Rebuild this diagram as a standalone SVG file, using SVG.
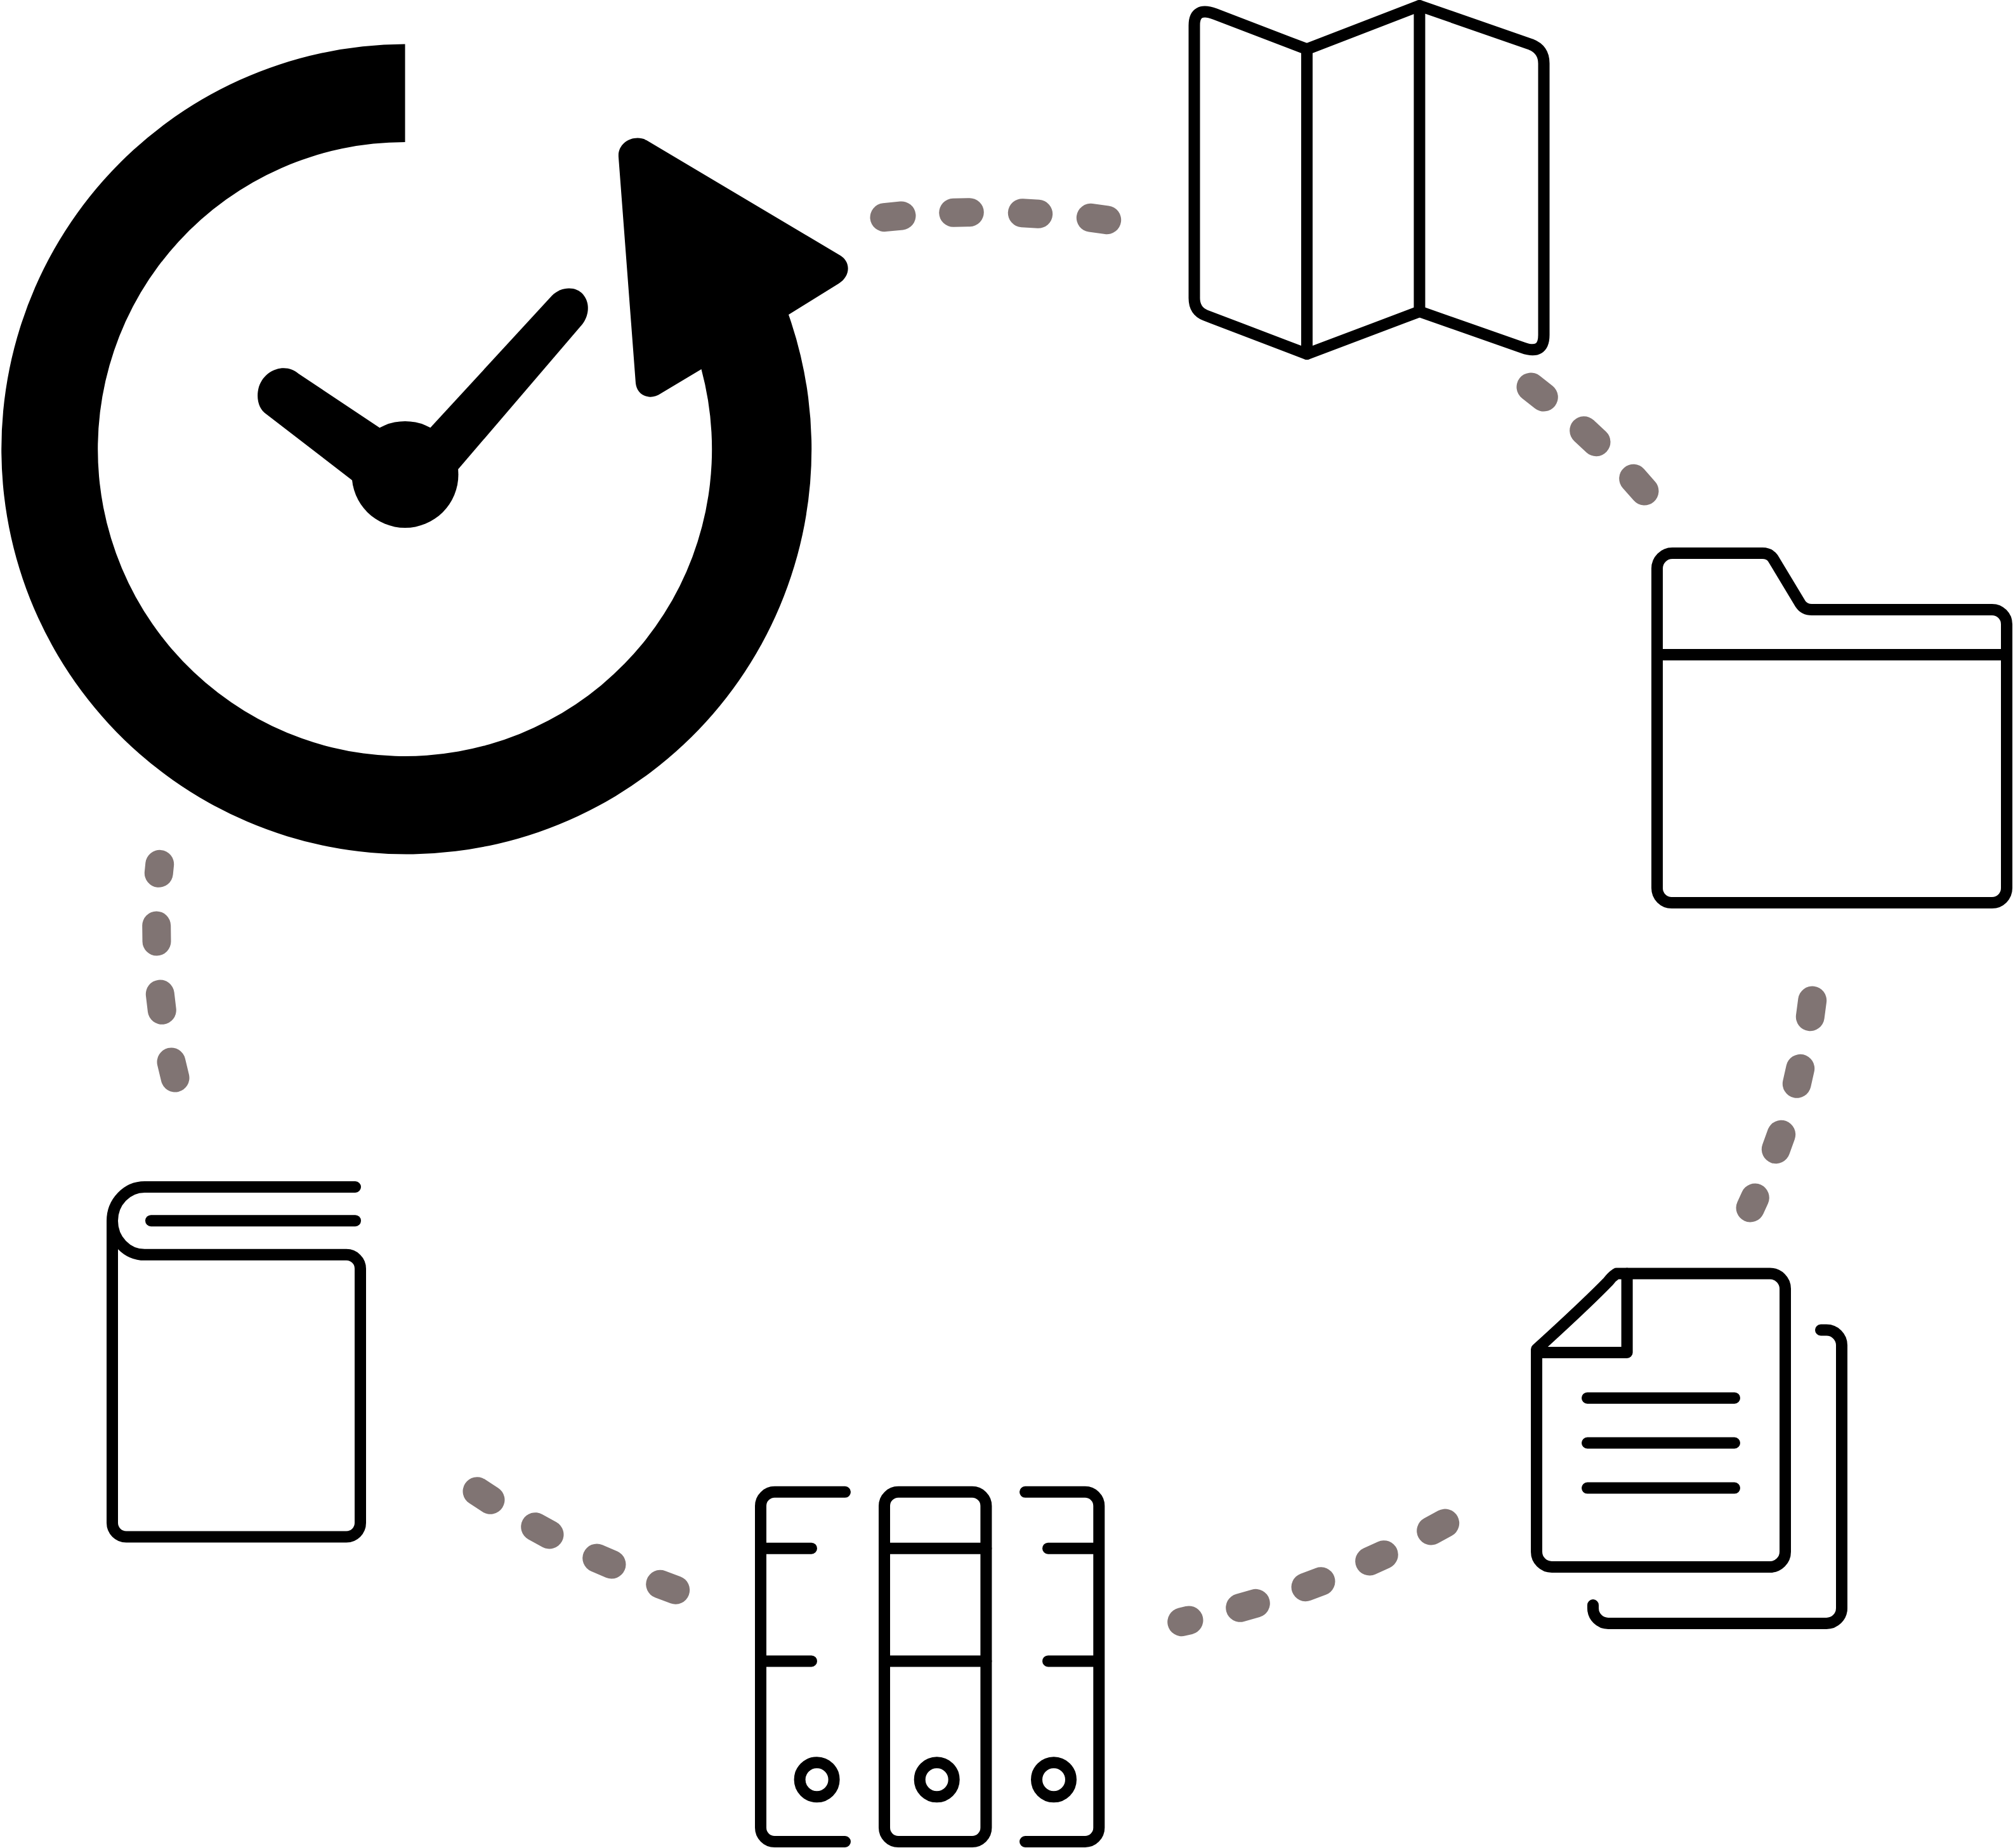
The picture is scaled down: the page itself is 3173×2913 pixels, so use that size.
<svg xmlns="http://www.w3.org/2000/svg" width="3173" height="2913" viewBox="0 0 3173 2913">
<style>
.ln{fill:none;stroke:#000;stroke-width:18;stroke-linecap:round;stroke-linejoin:round}
.solid{fill:#000;stroke:none}
.dash{fill:none;stroke:#807473;stroke-width:45;stroke-linecap:round}
</style>
<rect width="3173" height="2913" fill="#fff"/>
<g id="clock">
<path class="solid" d="M638.5,69.5 A638.5,638.5 0 1 0 1243,496 L1322,447 C1341,435 1341,413 1325,403 L1019,221 C1000,211 973,224 975,248 L1002,604 C1004,624 1025,632 1042,620 L1105.5,582 A484,484 0 1 1 638.5,224 Z"/>
<path class="solid" d="M598,674 L470.5,589 C452,572 418,580 408,610 C403,628 408,645 420,653 L555,757 L638,748 Z"/>
<path class="solid" d="M678.5,674 L870,466 C885,451 908,451 919,464 C930,477 929,496 918,511 L721,741 L638,748 Z"/>
<circle class="solid" cx="638.5" cy="748" r="84"/>
</g>
<g id="map">
<path class="ln" d="M2060,77.5 L1915,22 Q1882.5,10 1882.5,40 V470 Q1882.5,490 1900,497 L2060,558 L2237.5,491 L2400,548 Q2433.5,560 2433.5,528 V100 Q2433.5,78 2413,70 L2237.5,9 Z"/>
<path class="ln" d="M2060,77.5 V558 M2237.5,9 V491"/>
</g>
<g id="folder">
<path class="ln" d="M2612,1032 V896 A24,24 0 0 1 2636,872 H2778 Q2789,872 2794.6,880 L2838,952 Q2844,961 2856,961 H3140 A23,23 0 0 1 3163,984 V1400 A23,23 0 0 1 3140,1423 H2635 A23,23 0 0 1 2612,1400 Z"/>
<path class="ln" d="M2612,1032 H3163"/>
</g>
<g id="documents">
<path class="ln" d="M2548,2007.6 H2790 A24,24 0 0 1 2814,2031.6 V2446 A24,24 0 0 1 2790,2470 H2446 A24,24 0 0 1 2422,2446 V2127 Q2500,2056 2535,2020 Q2541,2012 2548,2007.6 Z"/>
<path class="ln" d="M2564.6,2007.6 V2132 H2422"/>
<path class="ln" d="M2502,2203.7 H2734 M2502,2274.5 H2734 M2502,2345.6 H2734"/>
<path class="ln" d="M2870,2096.5 H2879 A24,24 0 0 1 2903,2120.5 V2535 A24,24 0 0 1 2879,2559 H2535 A24,24 0 0 1 2511,2535 V2530"/>
</g>
<g id="binders">
<path class="ln" d="M1332,2351.8 H1221 A22,22 0 0 0 1199,2373.8 V2881 A22,22 0 0 0 1221,2903 H1332 M1199,2440.7 H1279 M1199,2618.4 H1279"/>
<rect class="ln" x="1394" y="2351.8" width="160.4" height="551.2" rx="22"/>
<path class="ln" d="M1394,2440.7 H1554.4 M1394,2618.4 H1554.4"/>
<path class="ln" d="M1616,2351.8 H1710 A22,22 0 0 1 1732.3,2373.8 V2881 A22,22 0 0 1 1710,2903 H1616 M1652,2440.7 H1732.3 M1652,2618.4 H1732.3"/>
<circle class="ln" cx="1287.6" cy="2805.2" r="27"/>
<circle class="ln" cx="1476.7" cy="2805.2" r="27"/>
<circle class="ln" cx="1661" cy="2805.2" r="27"/>
</g>
<g id="book">
<path class="ln" d="M560,1871 H228 A51,53.4 0 0 0 228,1977.8 H546 A22,22 0 0 1 568,1999.8 V2400.5 A22,22 0 0 1 546,2422.5 H199 A22,22 0 0 1 177,2400.5 V1924"/>
<path class="ln" d="M238,1924.2 H560"/>
</g>
<g id="connectors">
<path class="dash" d="M1394,342.7 L1421,340 M1502.7,335.3 L1528.3,334.7 M1611.3,335.7 L1636.7,337.3 M1719.3,343.3 L1744.7,346.7"/>
<path class="dash" d="M2413,610 L2433.3,626 M2496.7,678.7 L2516,696.7 M2574.7,754.3 L2592,774"/>
<path class="dash" d="M2856.7,1577 L2853.3,1602.7 M2837.7,1684.3 L2832.3,1708.3 M2807.7,1788.3 L2799.3,1811.7 M2766.3,1888 L2759,1904"/>
<path class="dash" d="M2277.7,2401 L2255.7,2413 M2181.3,2450.7 L2158.7,2461 M2082,2492.7 L2058,2501.7 M1979.3,2527.3 L1954.7,2534.3 M1874,2554 L1862.7,2556.7"/>
<path class="dash" d="M1064.7,2506.3 L1040.7,2497.3 M964,2466 L940.7,2456 M866,2419 L843.7,2406.7 M773,2364.3 L752,2350.7"/>
<path class="dash" d="M276,1699 L270,1674 M255.3,1592.3 L252.3,1567 M247,1484 L246.7,1459 M250.3,1376.3 L251.7,1362.3"/>
</g>
</svg>
